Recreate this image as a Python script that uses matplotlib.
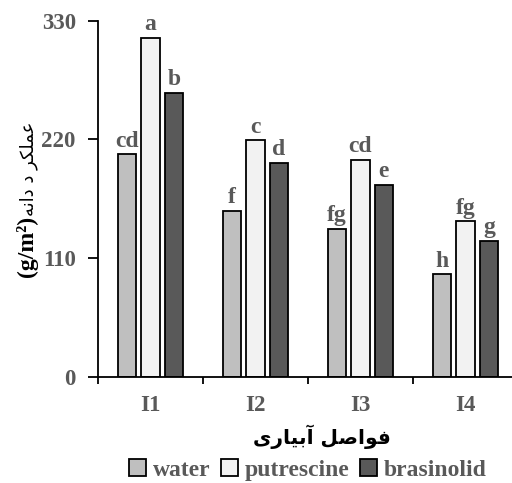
import numpy as np
import matplotlib
matplotlib.use("Agg")
import matplotlib.pyplot as plt
from matplotlib.patches import Patch

categories = ["I1", "I2", "I3", "I4"]
series = ["water", "putrescine", "brasinolid"]
water = [206, 154, 137, 95]
putrescine = [314, 219, 201, 144]
brasinolid = [263, 198, 178, 126]
letters_water = ["cd", "f", "fg", "h"]
letters_put = ["a", "c", "cd", "fg"]
letters_bras = ["b", "d", "e", "g"]
yticks = [0, 110, 220, 330]

colors = ["#BFBFBF", "#F2F2F2", "#595959"]
gray = "#595959"
serif = "Liberation Serif"


def visual(chars):
    # Arabic presentation forms, reversed into left-to-right drawing order
    return "".join(chr(c) if isinstance(c, int) else c for c in chars)[::-1]


xlab = visual([0xFED3, 0xFEEE, 0xFE8D, 0xFEBB, 0xFEDE, " ",
               0xFE81, 0xFE91, 0xFBFF, 0xFE8E, 0xFEAD, 0xFBFC])
ylab = visual([0xFECB, 0xFEE4, 0xFEE0, 0xFB91, 0xFEAE, " ", 0xFEA9, " ",
               0xFEA9, 0xFE8D, 0xFEE7, 0xFEEA])

fig = plt.figure(figsize=(5.12, 4.83), dpi=100)
ax = fig.add_axes([98 / 512, 106.3 / 483, 420 / 512, 356 / 483])

x = np.arange(len(categories))
w = 0.176
step = 0.223
data = [water, putrescine, brasinolid]
lets = [letters_water, letters_put, letters_bras]
for i, (vals, col, lab) in enumerate(zip(data, colors, lets)):
    xs = x + (i - 1) * step
    ax.bar(xs, vals, w, color=col, edgecolor="black", linewidth=1.3, zorder=2)
    for xi, v, t in zip(xs, vals, lab):
        ax.text(xi, v + 2.5, t, ha="center", va="bottom", fontsize=17,
                fontweight="bold", family=serif, color=gray)

ax.set_xlim(-0.5, 3.5)
ax.set_ylim(0, 330)
ax.set_yticks(yticks)
ax.set_yticklabels([str(t) for t in yticks], fontsize=16.5, fontweight="bold",
                   family=serif, color=gray)
ax.set_xticks([-0.5, 0.5, 1.5, 2.5])
ax.set_xticklabels([])
ax.set_xticks(x, minor=True)
ax.set_xticklabels(categories, minor=True, fontsize=16.5, fontweight="bold",
                   family=serif, color=gray)
ax.tick_params(axis="x", which="major", direction="out", length=5, width=1.3)
ax.tick_params(axis="x", which="minor", length=0, pad=13)
ax.tick_params(axis="y", direction="out", length=7, width=1.3, pad=9)
for s in ["top", "right"]:
    ax.spines[s].set_visible(False)
for s in ["left", "bottom"]:
    ax.spines[s].set_linewidth(1.3)

fig.text(322 / 512, 1 - 437 / 483, xlab, ha="center", va="center",
         fontsize=14.5, fontweight="bold", family="DejaVu Sans", color="black")
fig.text(29 / 512, 1 - 216 / 483, ylab, rotation=90, ha="center", va="bottom",
         fontsize=13, family="DejaVu Sans", color="black")
fig.text(27 / 512, 1 - 216 / 483, "(g/m²)", rotation=90, ha="center", va="top",
         fontsize=17, fontweight="bold", family=serif, color="black")

handles = [Patch(facecolor=c, edgecolor="black", linewidth=1.3) for c in colors]
leg = fig.legend(handles, series, loc="center", bbox_to_anchor=(308 / 512, 1 - 470 / 483),
                 ncol=3, frameon=False, handlelength=0.7, handleheight=0.7,
                 handletextpad=0.3, columnspacing=0.45, borderpad=0,
                 prop={"family": serif, "weight": "bold", "size": 17})
for t in leg.get_texts():
    t.set_color(gray)

fig.savefig("out.png", dpi=100)
